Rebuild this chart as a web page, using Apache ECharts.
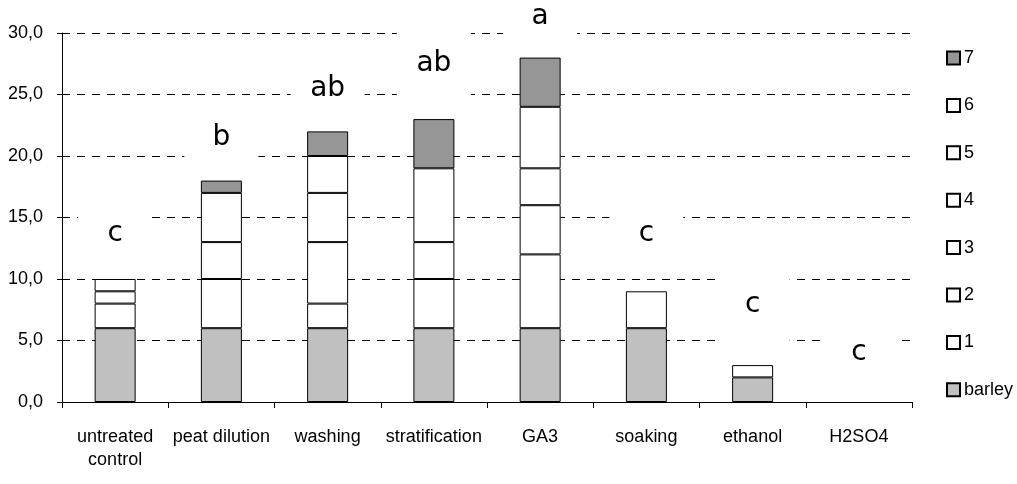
<!DOCTYPE html>
<html>
<head>
<meta charset="utf-8">
<script src="https://cdn.jsdelivr.net/npm/echarts@6/dist/echarts.min.js"></script>
<style>
html,body{margin:0;padding:0;background:#fff;}
#chart{width:1017px;height:484px;}
</style>
</head>
<body>
<div id="chart"></div>
<script>
var categories = ["untreated\ncontrol", "peat dilution", "washing", "stratification", "GA3", "soaking", "ethanol", "H2SO4"];
var barley = [6, 6, 6, 6, 6, 6, 2, 0];
var s1 = [2, 4, 2, 4, 6, 3, 1, 0];
var s2 = [1, 3, 5, 3, 4, 0, 0, 0];
var s3 = [1, 4, 4, 6, 3, 0, 0, 0];
var s4 = [0, 0, 3, 0, 5, 0, 0, 0];
var s5 = [0, 0, 0, 0, 0, 0, 0, 0];
var s6 = [0, 0, 0, 0, 0, 0, 0, 0];
var s7 = [0, 1, 2, 4, 4, 0, 0, 0];
var letters = ["c", "b", "ab", "ab", "a", "c", "c", "c"];
var letterY = [13.7, 21.5, 25.5, 27.5, 31.3, 13.7, 7.9, 4.0];
var yTickLabels = ["0,0", "5,0", "10,0", "15,0", "20,0", "25,0", "30,0"];
var seriesNames = ["barley", "1", "2", "3", "4", "5", "6", "7"];
var seriesData = [barley, s1, s2, s3, s4, s5, s6, s7];
var seriesColors = ["#c0c0c0", "#ffffff", "#ffffff", "#ffffff", "#ffffff", "#ffffff", "#ffffff", "#969696"];

var sans = "'Liberation Sans', Arial, sans-serif";

var series = seriesData.map(function (d, i) {
  return {
    name: seriesNames[i],
    type: 'bar',
    stack: 'total',
    barWidth: 41,
    data: d.map(function (v) { return v === 0 ? '-' : v; }),
    itemStyle: { color: seriesColors[i], borderColor: '#000', borderWidth: 1 },
    emphasis: { disabled: true },
    animation: false
  };
});

series.push({
  name: 'letters',
  type: 'scatter',
  data: letterY,
  symbol: 'circle',
  symbolSize: 0.1,
  clip: false,
  z: 10,
  itemStyle: { color: 'rgba(0,0,0,0)', opacity: 1 },
  label: {
    show: true,
    position: 'inside',
    formatter: function (p) { return letters[p.dataIndex]; },
    color: '#000',
    opacity: 1,
    fontFamily: "'DejaVu Sans', sans-serif",
    fontSize: 28,
    width: 74,
    lineHeight: 80,
    backgroundColor: '#fff',
    align: 'center',
    verticalAlign: 'middle'
  },
  emphasis: { disabled: true },
  animation: false
});

var chart = echarts.init(document.getElementById('chart'), null, { renderer: 'canvas' });
chart.setOption({
  animation: false,
  backgroundColor: '#fff',
  grid: { left: 62, right: 105, top: 33, bottom: 82 },
  legend: {
    orient: 'vertical',
    left: 946,
    top: 49,
    padding: 0,
    itemGap: 29.4,
    itemWidth: 13,
    itemHeight: 13,
    icon: 'rect',
    data: seriesNames.slice().reverse(),
    selectedMode: false,
    textStyle: { fontFamily: sans, fontSize: 18, color: '#000', padding: [0, 0, 0, -1] }
  },
  xAxis: {
    type: 'category',
    data: categories,
    axisLine: { lineStyle: { color: '#000', width: 1 } },
    axisTick: { show: true, length: 6, lineStyle: { color: '#000' } },
    axisLabel: { fontFamily: sans, fontSize: 18, color: '#000', margin: 24, lineHeight: 23, interval: 0 }
  },
  yAxis: {
    type: 'value',
    min: 0,
    max: 30,
    interval: 5,
    axisLine: { show: true, lineStyle: { color: '#000', width: 1 } },
    axisTick: { show: true, length: 5, lineStyle: { color: '#000' } },
    axisLabel: {
      fontFamily: sans, fontSize: 18, color: '#000', margin: 19,
      formatter: function (v) { return yTickLabels[Math.round(v / 5)]; }
    },
    splitLine: { show: true, lineStyle: { color: '#000', width: 1, type: [8, 7] } }
  },
  series: series
});
</script>
</body>
</html>
